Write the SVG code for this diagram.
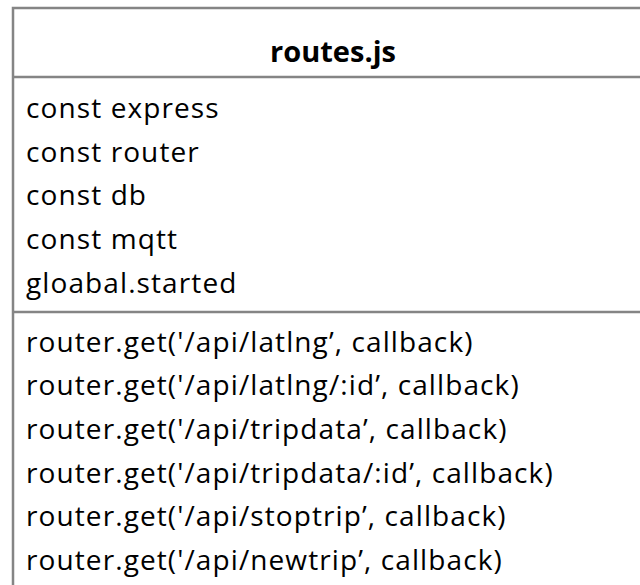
<svg xmlns="http://www.w3.org/2000/svg" width="640" height="585" viewBox="0 0 640 585">
  <style>
    .box { fill: #ffffff; stroke: #858585; stroke-width: 2.5; }
    .div { stroke: #858585; stroke-width: 2.5; }
    .title { font-family: "Open Sans", "Liberation Sans", sans-serif; font-weight: bold; font-size: 29px; fill: #000; text-anchor: middle; }
    .item { font-family: "Open Sans", "Liberation Sans", sans-serif; font-size: 28px; letter-spacing: 1.1px; fill: #000; }
  </style>
  <rect width="640" height="585" fill="#ffffff"/>
  <g id="class-routes">
    <rect class="box" x="13" y="8" width="640" height="600"/>
    <line class="div" x1="13" y1="77" x2="660" y2="77"/>
    <line class="div" x1="13" y1="312" x2="660" y2="312"/>
    <text class="title" x="333" y="62">routes.js</text>
    <g id="attributes">
      <text class="item" x="26" y="118">const express</text>
      <text class="item" x="26" y="162">const router</text>
      <text class="item" x="26" y="205">const db</text>
      <text class="item" x="26" y="249">const mqtt</text>
      <text class="item" x="26" y="293">gloabal.started</text>
    </g>
    <g id="methods">
      <text class="item" x="26" y="352">router.get('/api/latlng’, callback)</text>
      <text class="item" x="26" y="395">router.get('/api/latlng/:id’, callback)</text>
      <text class="item" x="26" y="439">router.get('/api/tripdata’, callback)</text>
      <text class="item" x="26" y="483">router.get('/api/tripdata/:id’, callback)</text>
      <text class="item" x="26" y="526">router.get('/api/stoptrip’, callback)</text>
      <text class="item" x="26" y="570">router.get('/api/newtrip’, callback)</text>
    </g>
  </g>
</svg>
